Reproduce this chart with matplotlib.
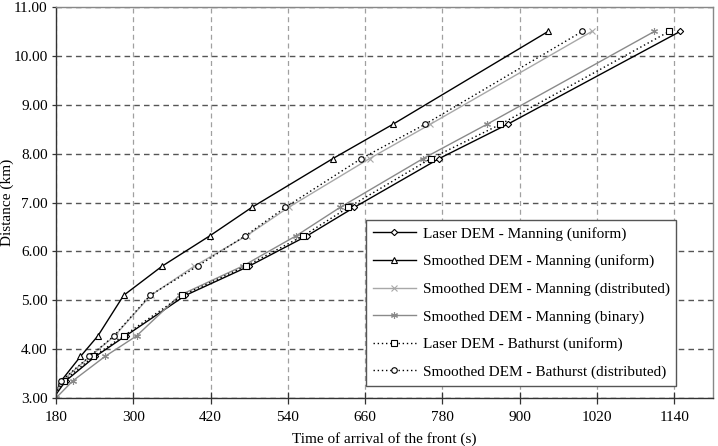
import numpy as np
import matplotlib
matplotlib.use("Agg")
from matplotlib import pyplot as plt

plt.rcParams['font.family'] = ['Liberation Serif', 'DejaVu Serif']

# distance of the front (km), shared by all runs
distance = [3.0, 3.35, 3.85, 4.27, 5.1, 5.7, 6.32, 6.9, 7.9, 8.6, 10.5]

# time of arrival (s) for each run
laser_manning_uni = [176, 195, 241, 288, 381, 480, 570, 643, 775, 881, 1149]
smooth_manning_uni = [176, 188, 218, 245, 285, 345, 419, 484, 610, 703, 944]
smooth_manning_dist = [176, 189, 233, 271, 327, 395, 476, 541, 667, 761, 1012]
smooth_manning_bin = [180, 206, 256, 305, 372, 470, 553, 621, 750, 849, 1109]
laser_bathurst_uni = [176, 192, 238, 285, 376, 475, 564, 634, 762, 870, 1132]
smooth_bathurst_dist = [176, 188, 232, 270, 326, 400, 474, 536, 654, 753, 997]

labels = ["Laser DEM - Manning (uniform)",
          "Smoothed DEM - Manning (uniform)",
          "Smoothed DEM - Manning (distributed)",
          "Smoothed DEM - Manning (binary)",
          "Laser DEM - Bathurst (uniform)",
          "Smoothed DEM - Bathurst (distributed)"]

xticks = [180, 300, 420, 540, 660, 780, 900, 1020, 1140]
yticks = [3, 4, 5, 6, 7, 8, 9, 10, 11]


def main():
    fig = plt.figure(figsize=(7.18, 4.46), dpi=100)
    ax = fig.add_axes([0.078, 0.1076, 0.915, 0.8767])

    # (series, colour, linestyle, marker, marker size)
    dots = (0, (1, 2))
    styles = [
        (laser_manning_uni, "black", "-", "D", 3.2),
        (smooth_manning_uni, "black", "-", "^", 3.8),
        (smooth_manning_dist, "#a8a8a8", "-", "x", 5.0),
        (smooth_manning_bin, "#8a8a8a", "-", (6, 2, 0), 5.0),
        (laser_bathurst_uni, "black", dots, "s", 4.0),
        (smooth_bathurst_dist, "black", dots, "o", 4.0),
    ]
    for (t, col, ls, mk, ms), lab in zip(styles, labels):
        ax.plot(t, distance, color=col, linestyle=ls, linewidth=1.0,
                marker=mk, markersize=ms, markerfacecolor="white",
                markeredgecolor=col, markeredgewidth=0.8, label=lab)

    ax.set_xlim(180, 1200)
    ax.set_ylim(3, 11)
    ax.set_xticks(xticks)
    ax.set_yticks(yticks)
    ax.set_yticklabels(["%.2f" % v for v in yticks])

    # grid
    ax.yaxis.grid(True, color="#555555", linestyle=(0, (4, 3)), linewidth=1.0)
    ax.xaxis.grid(True, color="#a0a0a0", linestyle=(0, (4, 3)), linewidth=0.9)
    ax.set_axisbelow(True)

    for s in ["left", "bottom"]:
        ax.spines[s].set_color("#333333")
        ax.spines[s].set_linewidth(1.0)
    for s in ["top", "right"]:
        ax.spines[s].set_color("#888888")
        ax.spines[s].set_linewidth(1.0)

    ax.tick_params(axis="x", direction="inout", length=9, width=0.9,
                   color="#333333", labelsize=11, pad=5)
    ax.tick_params(axis="y", direction="out", length=3, width=0.9,
                   color="#333333", labelsize=11, pad=3)

    ax.set_xlabel("Time of arrival of the front (s)", fontsize=11, labelpad=6)
    ax.set_ylabel("Distance (km)", fontsize=11)
    ax.yaxis.set_label_coords(-0.064, 0.5)

    leg = ax.legend(loc="lower left", bbox_to_anchor=(0.472, 0.031),
                    fontsize=11, frameon=True, fancybox=False,
                    handlelength=2.8, handletextpad=0.45, labelspacing=0.9,
                    borderpad=0.45, borderaxespad=0)
    leg.get_frame().set_edgecolor("#555555")
    leg.get_frame().set_linewidth(1.0)
    leg.get_frame().set_alpha(1.0)

    fig.savefig("out.png", dpi=100)


if __name__ == "__main__":
    main()
